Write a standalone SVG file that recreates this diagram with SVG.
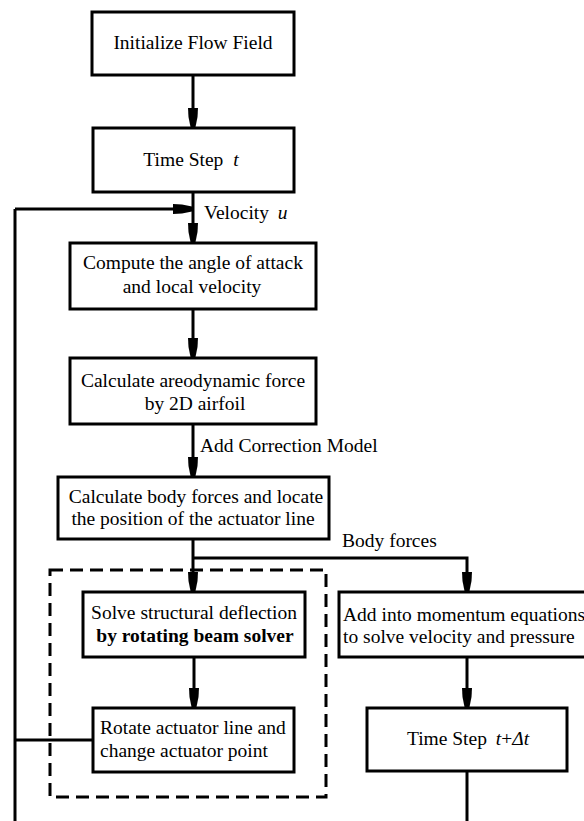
<svg xmlns="http://www.w3.org/2000/svg" width="584" height="821" viewBox="0 0 584 821">
<style>
.box{fill:#fff;stroke:#000;stroke-width:3}
.ln{fill:none;stroke:#000;stroke-width:3}
.dash{fill:none;stroke:#000;stroke-width:3;stroke-dasharray:13 7}
text{font-family:"Liberation Serif","Times New Roman",serif;font-size:19.5px;fill:#000}
.c{text-anchor:middle}
.i{font-style:italic}
.b{font-weight:bold}
</style>
<defs>
<path id="ah" d="M-5,-19 L5,-19 L4.5,-10 L2.5,0 L-2.5,0 L-4.5,-10 Z" fill="#000"/>
</defs>
<g id="connectors">
<line class="ln" x1="193" y1="75" x2="193" y2="126"/>
<use href="#ah" x="193" y="127"/>
<line class="ln" x1="193" y1="192" x2="193" y2="241"/>
<use href="#ah" x="193" y="242"/>
<line class="ln" x1="193" y1="309" x2="193" y2="356"/>
<use href="#ah" x="193" y="357"/>
<line class="ln" x1="193" y1="424" x2="193" y2="475"/>
<use href="#ah" x="193" y="476"/>
<line class="ln" x1="193" y1="539" x2="193" y2="590"/>
<use href="#ah" x="193" y="591"/>
<polyline class="ln" points="193,558 467,558 467,590"/>
<use href="#ah" x="467" y="591"/>
<line class="ln" x1="194" y1="657" x2="194" y2="706"/>
<use href="#ah" x="194" y="707"/>
<line class="ln" x1="467" y1="657" x2="467" y2="706"/>
<use href="#ah" x="467" y="707"/>
<line class="ln" x1="467" y1="771" x2="467" y2="821"/>
<line class="ln" x1="15" y1="209" x2="15" y2="821"/>
<line class="ln" x1="15" y1="209" x2="190" y2="209"/>
<use href="#ah" transform="translate(192,209) rotate(-90)"/>
<line class="ln" x1="15" y1="740" x2="93" y2="740"/>
<text x="204" y="219">Velocity <tspan class="i" dx="4">u</tspan></text>
<text x="200" y="452">Add Correction Model</text>
<text x="342" y="547">Body forces</text>
</g>
<g id="group-structure">
<rect class="dash" x="50" y="570" width="276" height="227"/>
</g>
<g id="n1"><rect class="box" x="92" y="12" width="202" height="63"/>
<text class="c" x="193" y="49">Initialize Flow Field</text></g>
<g id="n2"><rect class="box" x="93" y="128" width="201" height="64"/>
<text class="c" x="191" y="166">Time Step <tspan class="i" dx="5">t</tspan></text></g>
<g id="n3"><rect class="box" x="70" y="243" width="246" height="66"/>
<text class="c" x="193" y="269">Compute the angle of attack</text>
<text class="c" x="192" y="293">and local velocity</text></g>
<g id="n4"><rect class="box" x="70" y="358" width="246" height="66"/>
<text class="c" x="193" y="387">Calculate areodynamic force</text>
<text class="c" x="195" y="410">by 2D airfoil</text></g>
<g id="n5"><rect class="box" x="58" y="477" width="271" height="62"/>
<text class="c" x="196" y="503">Calculate body forces and locate</text>
<text class="c" x="193" y="525">the position of the actuator line</text></g>
<g id="n6"><rect class="box" x="83" y="592" width="222" height="65"/>
<text class="c" x="194" y="619">Solve structural deflection</text>
<text class="c b" x="195" y="642">by rotating beam solver</text></g>
<g id="n7"><rect class="box" x="93" y="708" width="201" height="64"/>
<text x="100" y="734">Rotate actuator line and</text>
<text x="100" y="757">change actuator point</text></g>
<g id="n8"><rect class="box" x="339" y="592" width="262" height="65"/>
<text x="343" y="621">Add into momentum equations</text>
<text x="343" y="643">to solve velocity and pressure</text></g>
<g id="n9"><rect class="box" x="367" y="708" width="200" height="63"/>
<text class="c" x="468" y="745">Time Step <tspan class="i" dx="4">t</tspan>+<tspan class="i">Δt</tspan></text></g>
</svg>
